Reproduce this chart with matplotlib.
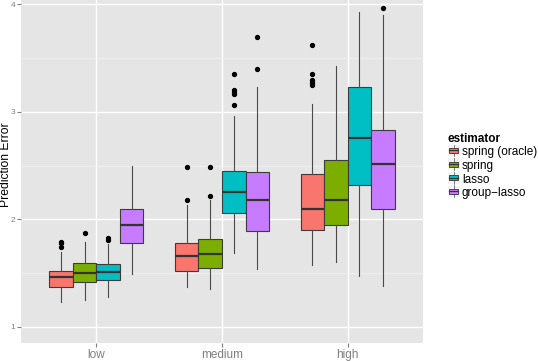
import numpy as np
import matplotlib
matplotlib.use("Agg")
import matplotlib.pyplot as plt
from matplotlib.legend_handler import HandlerBase
from matplotlib.patches import Rectangle
from matplotlib.lines import Line2D

plt.rcParams['font.family'] = ['Liberation Sans', 'DejaVu Sans']

levels = ["low", "medium", "high"]
estimators = ["spring (oracle)", "spring", "lasso", "group\u2212lasso"]
colors = ["#F8766D", "#7CAE00", "#00BFC4", "#C77CFF"]

# rows: estimator, columns: level (low, medium, high)
whislo = [[1.23, 1.37, 1.58],
          [1.25, 1.35, 1.60],
          [1.28, 1.69, 1.47],
          [1.49, 1.54, 1.38]]
q1 = [[1.37, 1.52, 1.905],
      [1.42, 1.55, 1.95],
      [1.44, 2.06, 2.32],
      [1.78, 1.89, 2.10]]
med = [[1.46, 1.655, 2.10],
       [1.505, 1.68, 2.18],
       [1.51, 2.25, 2.76],
       [1.95, 2.18, 2.515]]
q3 = [[1.52, 1.78, 2.42],
      [1.59, 1.815, 2.55],
      [1.585, 2.45, 3.23],
      [2.095, 2.445, 2.83]]
whishi = [[1.70, 2.13, 3.07],
          [1.79, 2.18, 3.43],
          [1.77, 2.96, 3.93],
          [2.50, 3.23, 3.90]]
fliers = [[[1.79, 1.78, 1.745], [2.49, 2.18], [3.62, 3.35, 3.30, 3.28, 3.26, 3.245]],
          [[1.87], [2.49, 2.215], []],
          [[1.825, 1.81], [3.35, 3.20, 3.185, 3.17, 3.06], []],
          [[], [3.70, 3.40], [3.965]]]

fig = plt.figure(figsize=(5.38, 3.61), dpi=100)
ax = fig.add_axes([21 / 538, 18 / 361, 402 / 538, 343 / 361])
ax.set_facecolor("#E5E5E5")

width = 0.75 / 4
for e in range(4):
    stats = []
    for l in range(3):
        stats.append(dict(whislo=whislo[e][l], q1=q1[e][l], med=med[e][l],
                          q3=q3[e][l], whishi=whishi[e][l], fliers=fliers[e][l]))
    pos = [l + 1 + (e - 1.5) * width for l in range(3)]
    ax.bxp(stats, positions=pos, widths=width, patch_artist=True, showcaps=False,
           boxprops=dict(facecolor=colors[e], edgecolor="#3C3C3C", linewidth=0.8),
           medianprops=dict(color="#333333", linewidth=1.6),
           whiskerprops=dict(color="#4A4A4A", linewidth=0.8),
           flierprops=dict(marker="o", markerfacecolor="black", markeredgecolor="black",
                           markersize=2.8), zorder=3)

ax.set_xlim(0.4, 3.6)
ax.set_ylim(0.85, 4.04)
ax.set_xticks([1, 2, 3])
ax.set_xticklabels(levels)
ax.set_yticks([1, 2, 3, 4])
ax.set_yticks([1.5, 2.5, 3.5], minor=True)
ax.grid(which="major", color="white", linewidth=1.0, zorder=0)
ax.grid(which="minor", color="#F2F2F2", linewidth=0.5, zorder=0)
ax.set_axisbelow(True)
for s in ax.spines.values():
    s.set_visible(False)
ax.tick_params(axis="x", which="major", length=3, color="#7F7F7F", labelcolor="#7F7F7F",
               labelsize=8.5, pad=1)
ax.tick_params(axis="y", which="major", length=3, color="#7F7F7F", labelcolor="#7F7F7F",
               labelsize=6, pad=1)
ax.tick_params(which="minor", length=0)
ax.set_ylabel("Prediction Error", fontsize=8.7)
ax.yaxis.set_label_coords(-0.022, 0.52)


class BoxHandler(HandlerBase):
    def create_artists(self, legend, orig, xd, yd, w, h, fontsize, trans):
        col = orig.get_facecolor()
        bg = Rectangle((xd, yd - 1), w, h + 2, facecolor="#F2F2F2", edgecolor="none",
                       transform=trans)
        box = Rectangle((xd + 1, yd + 1.5), w - 2, h - 3, facecolor=col, edgecolor="#333333",
                        linewidth=0.6, transform=trans)
        mid = Line2D([xd + 1, xd + w - 1], [yd + h / 2] * 2, color="#333333", linewidth=0.9,
                     transform=trans)
        wh = Line2D([xd + w / 2] * 2, [yd - 1, yd + h + 1], color="#4A4A4A", linewidth=0.5,
                    transform=trans)
        return [bg, wh, box, mid]


handles = [Rectangle((0, 0), 1, 1, facecolor=c) for c in colors]
leg = fig.legend(handles, estimators, title="estimator", loc="upper left",
                 bbox_to_anchor=(443 / 538, 1 - 128 / 361), frameon=False,
                 handler_map={Rectangle: BoxHandler()}, handlelength=1.0,
                 handleheight=0.8, handletextpad=0.2, labelspacing=0.14,
                 fontsize=8.5, borderaxespad=0)
leg.get_title().set_fontweight("bold")
leg.get_title().set_fontsize(8.5)
leg._legend_box.align = "left"

fig.savefig("out.png", dpi=100)
